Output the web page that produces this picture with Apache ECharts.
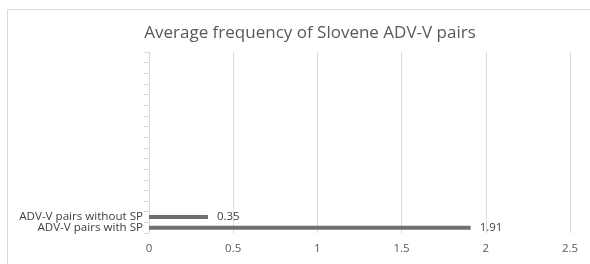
<!DOCTYPE html>
<html>
<head>
<meta charset="utf-8">
<script src="https://cdn.jsdelivr.net/npm/echarts@6/dist/echarts.min.js"></script>
<style>
  html, body { margin: 0; padding: 0; background: #fff; }
  #chart { width: 590px; height: 264px; }
</style>
</head>
<body>
<div id="chart"></div>
<script>
// 17 category slots on the y axis, only the bottom two are used
var categories = ['ADV-V pairs with SP', 'ADV-V pairs without SP',
    '', '', '', '', '', '', '', '', '', '', '', '', '', '', ''];
var values = [1.91, 0.35,
    null, null, null, null, null, null, null, null, null, null, null, null, null, null, null];
var xTicks = [0, 0.5, 1, 1.5, 2, 2.5];

var font = '"Open Sans", sans-serif';
var chart = echarts.init(document.getElementById('chart'));

chart.setOption({
    backgroundColor: '#fff',
    animation: false,
    title: {
        text: 'Average frequency of Slovene ADV-V pairs',
        left: 305,
        textAlign: 'center',
        top: 20,
        textStyle: { fontFamily: font, fontSize: 17, fontWeight: 'normal', color: '#595959' }
    },
    graphic: [{
        type: 'rect',
        shape: { x: 7.5, y: 9.5, width: 600, height: 300 },
        style: { fill: 'none', stroke: '#d9d9d9', lineWidth: 1 },
        silent: true
    }],
    grid: { left: 149, right: 20, top: 52, bottom: 31 },
    xAxis: {
        type: 'value',
        min: xTicks[0],
        max: xTicks[xTicks.length - 1],
        interval: 0.5,
        axisLine: { show: false },
        axisTick: { show: false },
        splitLine: { lineStyle: { color: '#d9d9d9', width: 1 } },
        axisLabel: { fontFamily: font, fontSize: 11.5, color: '#595959', margin: 10 }
    },
    yAxis: {
        type: 'category',
        data: categories,
        axisLine: { show: true, lineStyle: { color: '#d9d9d9' } },
        axisTick: { show: true, length: 5, lineStyle: { color: '#d9d9d9' } },
        axisLabel: { fontFamily: font, fontSize: 11.6, color: '#404040', margin: 6, interval: 0 }
    },
    series: [{
        type: 'bar',
        data: values,
        barWidth: 4,
        itemStyle: { color: '#6f6f6f' },
        label: {
            show: true,
            position: 'right',
            distance: 9,
            fontFamily: font,
            fontSize: 11.5,
            color: '#404040'
        }
    }]
});
</script>
</body>
</html>
